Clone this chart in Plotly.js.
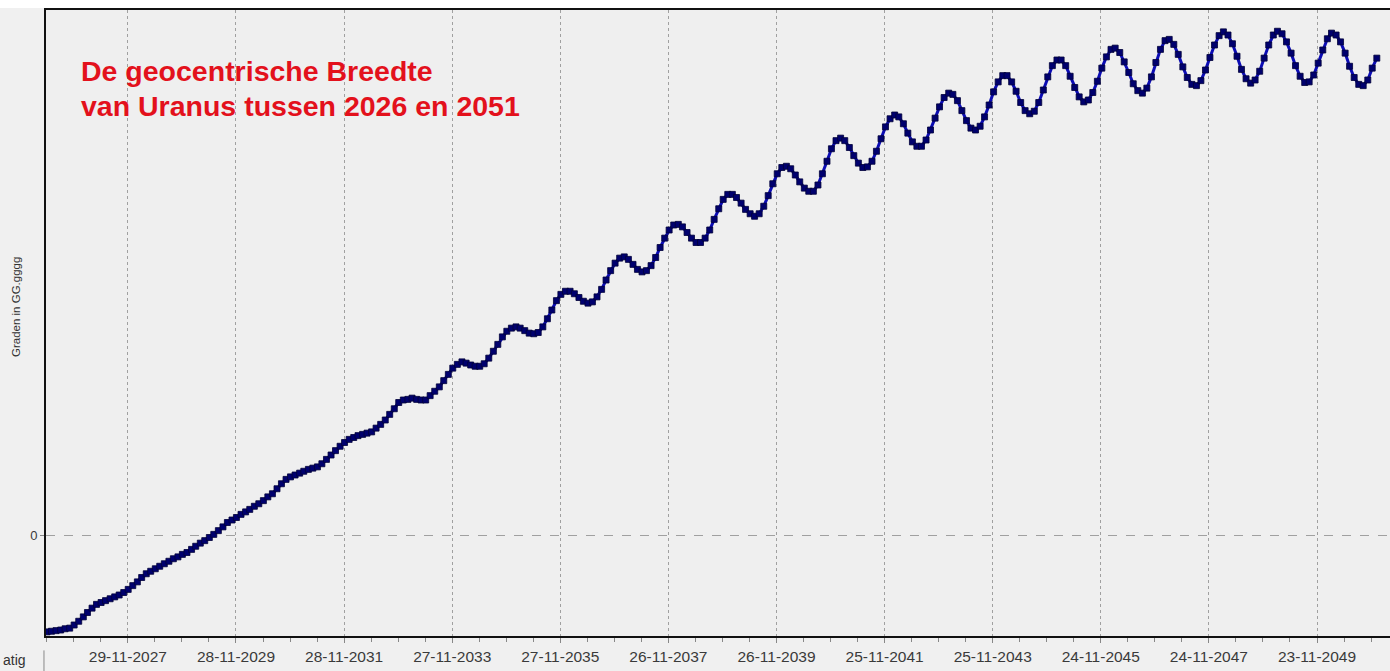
<!DOCTYPE html>
<html>
<head>
<meta charset="utf-8">
<script src="https://cdn.plot.ly/plotly-3.0.1.min.js"></script>
<style>
html,body{margin:0;padding:0;background:#f0f0f0;}
#chart{width:1390px;height:671px;}
</style>
</head>
<body>
<div id="chart"></div>
<script>
// First data point (month) and monthly step
const firstMonth = [2026, 6];
// Geocentric latitude of Uranus (degrees), one value per month from June 2026
const latitude = [
-0.155,-0.154,-0.153,-0.152,-0.150,-0.149,-0.144,-0.138,-0.131,-0.124,
-0.117,-0.111,-0.108,-0.105,-0.102,-0.099,-0.096,-0.092,-0.087,-0.081,
-0.075,-0.068,-0.062,-0.058,-0.054,-0.050,-0.046,-0.042,-0.038,-0.035,
-0.031,-0.028,-0.023,-0.018,-0.013,-0.009,-0.004,0.001,0.007,0.013,
0.020,0.024,0.028,0.033,0.037,0.041,0.046,0.050,0.055,0.061,
0.066,0.074,0.082,0.089,0.093,0.096,0.099,0.102,0.105,0.107,
0.109,0.114,0.121,0.128,0.135,0.142,0.148,0.153,0.156,0.159,
0.161,0.163,0.165,0.171,0.177,0.184,0.193,0.202,0.212,0.216,
0.217,0.219,0.217,0.216,0.216,0.223,0.230,0.237,0.247,0.257,
0.267,0.273,0.277,0.275,0.272,0.270,0.270,0.274,0.283,0.294,
0.305,0.317,0.326,0.331,0.333,0.331,0.327,0.323,0.322,0.324,
0.333,0.346,0.360,0.375,0.385,0.390,0.390,0.386,0.380,0.374,
0.371,0.373,0.381,0.393,0.408,0.423,0.435,0.443,0.445,0.441,
0.433,0.425,0.421,0.423,0.431,0.444,0.460,0.475,0.488,0.496,
0.497,0.493,0.484,0.475,0.468,0.468,0.475,0.488,0.505,0.522,
0.537,0.545,0.545,0.540,0.531,0.521,0.514,0.510,0.514,0.526,
0.543,0.562,0.578,0.588,0.590,0.586,0.576,0.565,0.555,0.550,
0.550,0.560,0.578,0.598,0.618,0.631,0.635,0.631,0.620,0.607,
0.595,0.588,0.589,0.598,0.614,0.634,0.653,0.666,0.672,0.669,
0.658,0.643,0.629,0.622,0.622,0.632,0.648,0.667,0.685,0.700,
0.707,0.705,0.695,0.679,0.663,0.651,0.648,0.654,0.669,0.688,
0.709,0.725,0.735,0.735,0.725,0.710,0.692,0.679,0.674,0.678,
0.692,0.712,0.733,0.751,0.760,0.760,0.751,0.734,0.716,0.701,
0.693,0.696,0.708,0.726,0.747,0.765,0.777,0.779,0.772,0.757,
0.740,0.722,0.711,0.707,0.715,0.733,0.756,0.777,0.791,0.793,
0.785,0.769,0.749,0.732,0.721,0.719,0.727,0.744,0.764,0.784,
0.799,0.805,0.800,0.786,0.766,0.745,0.730,0.723,0.728,0.742,
0.763,0.784,0.800,0.806,0.802,0.789,0.771,0.751,0.734,0.724,
0.725,0.736,0.755,0.776,0.794,0.803,0.800,0.789,0.771,0.750,
0.732,0.721,0.719,0.728,0.747,0.763
];
const tickDates = ['2027-11-29','2029-11-28','2031-11-28','2033-11-27','2035-11-27','2037-11-26',
  '2039-11-26','2041-11-25','2043-11-25','2045-11-24','2047-11-24','2049-11-23'];
const tickLabels = ['29-11-2027','28-11-2029','28-11-2031','27-11-2033','27-11-2035','26-11-2037',
  '26-11-2039','25-11-2041','25-11-2043','24-11-2045','24-11-2047','23-11-2049'];
const titleLines = ['De geocentrische Breedte', 'van Uranus tussen 2026 en 2051'];
const yAxisTitle = 'Graden in GG.gggg';

const dates = latitude.map((v, i) => {
  const m = firstMonth[1] - 1 + i;
  const y = firstMonth[0] + Math.floor(m / 12);
  const mm = (m % 12) + 1;
  return y + '-' + String(mm).padStart(2, '0') + '-01';
});

const trace = {
  x: dates, y: latitude, type: 'scatter', mode: 'lines+markers',
  line: {color: '#0c0cb4', width: 3},
  marker: {symbol: 'square', size: 6, color: '#00006e', line: {width: 0.8, color: '#000038'}},
  hoverinfo: 'x+y'
};

const font = 'Liberation Sans, Arial, sans-serif';
const layout = {
  width: 1390, height: 671,
  margin: {l: 46, r: 0, t: 10, b: 35},
  paper_bgcolor: '#f0f0f0', plot_bgcolor: '#efefef',
  showlegend: false,
  xaxis: {
    type: 'date', range: ['2026-05-25', '2051-03-31'],
    tickvals: tickDates, ticktext: tickLabels,
    tickfont: {family: font, size: 15.5, color: '#3a3a3a'},
    ticks: 'outside', ticklen: 5, tickcolor: '#888', tickwidth: 1,
    minor: {dtick: 182.5 * 86400000, tick0: '2027-11-29', ticks: 'outside', ticklen: 4, tickcolor: '#888', showgrid: false},
    showgrid: true, gridcolor: '#a0a0a0', griddash: 'dot', gridwidth: 1,
    showline: true, linecolor: '#111', linewidth: 2, mirror: true,
    zeroline: false, fixedrange: true
  },
  yaxis: {
    range: [-0.1616, 0.84],
    tickvals: [0], ticktext: ['0'],
    tickfont: {family: font, size: 13, color: '#3a3a3a'},
    ticks: 'outside', ticklen: 4, tickcolor: '#888',
    showgrid: true, gridcolor: '#a0a0a0', griddash: 'dash', gridwidth: 1,
    showline: true, linecolor: '#111', linewidth: 2,
    zeroline: false, fixedrange: true
  },
  shapes: [
    {type: 'rect', xref: 'paper', yref: 'paper', x0: -0.04, x1: 1.01, y0: 1.003, y1: 1.03,
     fillcolor: '#ffffff', line: {width: 0}, layer: 'below'},
    {type: 'line', xref: 'paper', yref: 'paper', x0: -0.0015, x1: -0.0015, y0: -0.023, y1: -0.06,
     line: {color: '#888', width: 1}}
  ],
  annotations: [
    {text: '<b>' + titleLines[0] + '</b>', xref: 'paper', yref: 'paper', x: 0.0242, y: (636 - 71) / 626,
     xanchor: 'left', yanchor: 'middle', showarrow: false, font: {family: font, size: 28.5, color: '#e3111c'}},
    {text: '<b>' + titleLines[1] + '</b>', xref: 'paper', yref: 'paper', x: 0.0242, y: (636 - 106) / 626,
     xanchor: 'left', yanchor: 'middle', showarrow: false, font: {family: font, size: 28.5, color: '#e3111c'}},
    {text: yAxisTitle, xref: 'paper', yref: 'paper', x: 0, xshift: -30, y: (636 - 307) / 626,
     xanchor: 'center', yanchor: 'middle', textangle: -90, showarrow: false,
     font: {family: font, size: 11.5, color: '#333'}},
    {text: 'atig', xref: 'paper', yref: 'paper', x: 0, xshift: -45, y: -0.0545, xanchor: 'left', yanchor: 'bottom',
     showarrow: false, font: {family: font, size: 14, color: '#333'}}
  ]
};

Plotly.newPlot('chart', [trace], layout, {displayModeBar: false, staticPlot: true});
</script>
</body>
</html>
